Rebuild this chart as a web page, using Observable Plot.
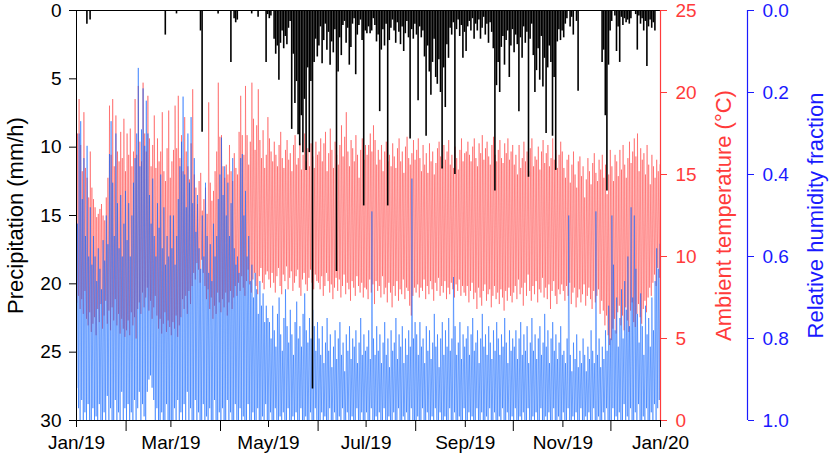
<!DOCTYPE html>
<html><head><meta charset="utf-8">
<script src="https://cdn.jsdelivr.net/npm/d3@7"></script>
<script src="https://cdn.jsdelivr.net/npm/@observablehq/plot@0.6"></script>
<style>body{margin:0;background:#fff}</style>
</head><body><div id="chart"></div>
<script>
// Daily maximum temperature (°C), Jan..Dec 2019
const tMax = [
17.5,19.6,16.8,15.2,18.8,15.4,14.8,13.6,16.4,14.2,13.5,13,12.4,12.6,12.9,13.2,12.5,12.2,13.6,14.8,19.2,16.2,19.6,15.5,18.6,16.4,15.8,17.6,16,18.4,15.2,
17.5,16.2,17.8,15.5,16.4,19.6,16.2,20.4,17,15.8,20.6,17.5,16.4,19.8,17.2,15.5,16.8,18.6,15.4,17.2,15.8,16.4,18.8,15.2,14.6,16.6,18.9,14.8,
15.8,16.5,19.2,16.6,19.8,16,17.4,15.2,18.5,16.4,15.5,14.7,16.9,20.2,15,14.2,13.2,14.6,15.1,12.8,13.5,14.2,12.6,19.4,14.5,13.4,14,15.2,16.4,20.6,17.3,
17.4,15.5,14.8,15.6,15,16.8,15.2,14.6,16.3,15.4,15,17.6,19.8,17.4,16.2,20.4,17.4,15.6,17,20.6,18.4,16.5,18,20.2,17.1,16,17.7,15.4,16.2,18.5,
17.2,16.4,15.8,17,16.2,15.5,16.8,17.6,16,15.4,16.5,17.1,15.9,16.3,15.2,16.8,17.4,15.6,16,16.9,15.3,16.2,17.5,15.8,16.6,15.5,16.9,16.1,15.4,17,16.2,
16.4,17.2,15.8,16.9,17.6,15.2,16.3,17.8,16.5,15.4,17,16.2,15.6,16.8,18,16.1,17.3,18.8,16.4,15.5,17.1,16.6,15.8,17.4,16.2,14.8,16.5,17.2,15.9,16.8,
16.2,16.8,17.5,16.4,18,17.1,15.6,16.5,15.9,16.8,15.2,16.4,17,15.8,16.2,15.5,16.9,16.1,15.4,16.6,17.2,15.8,16.4,15.1,16.7,17.3,16,15.6,16.3,17.1,15.9,
16.5,17.2,16,15.2,16.8,15.6,16.3,15.1,16.9,15.8,16.4,15,15.7,16.6,17,16.1,15.5,16.8,15.9,16.4,17.1,15.6,16.2,15.4,16.7,16,15.3,16.5,17.2,15.8,16.3,
16.4,17,16.2,15.8,16.7,17.2,16,15.5,16.9,16.3,17.4,15.9,16.6,17,16.1,15.6,16.8,17.3,16.2,15.8,16.5,17.1,16,15.7,16.9,16.3,17.2,15.9,16.4,16.8,
15.6,16.2,15,16.8,15.4,16,17,15.8,16.4,15.2,16.6,17.2,15.5,16.1,15.9,16.7,15.3,16.4,17.1,15.7,16.3,16.8,15.5,16,17.2,15.9,16.5,15.4,16.2,17,16.4,
15.4,14.8,15.9,16.2,14.5,15.6,16.4,15,14.2,15.8,16.1,14.9,15.5,13.6,14.7,16,15.2,14.4,15.7,16.3,15.1,14.6,15.9,15.3,16.2,14.8,15.6,13.8,15,16.5,
15.5,14.6,16.2,15.8,14.9,16.5,15.3,16.8,15.6,14.8,16,17,15.7,16.4,17.2,16.1,17.5,15.2,16.6,15.9,16.3,15,16.8,15.6,14.4,16.2,15.5,14.8,15.9,15.2,15.6
];
// Daily minimum temperature (°C)
const tMin = [
7.2,7.6,6.8,7.4,6.5,7.9,6.2,5.8,6.6,5.4,5.9,6.3,5.2,6.8,6,7.1,5.6,6.4,7.3,5.9,6.7,5.5,6.9,6.1,7.4,5.8,6.5,5.3,6.2,5.6,5.1,
5.5,6.1,5.2,6.6,5.8,6.3,5,6.8,7.2,6.5,7.8,6.9,7.5,8.1,6.7,7.3,6.2,6.9,7.6,6.4,5.6,6.2,5.3,5.9,6.6,5.4,6.1,5.7,
5.2,6,5.6,6.4,5.1,5.8,6.3,7.4,6.8,7.6,6.5,7.9,7.1,8.2,9,8.6,9.6,9.2,8.4,9.8,9,8.2,7.4,8,6.8,7.5,6.2,7,6.5,7.8,7.2,
6.6,7.4,6.9,7.8,6.4,7.2,7.9,6.8,7.5,8.2,7.6,8.4,7.9,8.8,8.1,7.6,8.5,9.2,8.3,7.8,8.6,9,8.2,7.7,8.8,9.3,8.4,8,8.9,9.1,
8.6,8.1,9,8.4,7.8,8.8,9.3,8.2,7.7,8.9,8.5,9.4,8,8.7,9.1,7.9,8.4,8.8,9.2,8.1,7.6,8.6,9,8.3,7.9,8.7,9.2,8.4,8,8.9,8.5,
8.4,8,8.8,7.6,8.2,9,8.5,7.8,8.3,7.4,8.1,8.7,7.9,8.6,7.5,8.2,8.9,7.7,8.4,8,7.3,8.5,8.1,7.6,8.8,8.2,7.8,8.4,7.5,8.1,
8,7.4,8.6,7.8,8.3,7.1,8.5,7.9,8.2,7.5,8.8,7.7,8.1,7.2,8.4,7.8,6.9,8.2,7.6,8.5,7.3,8,7.7,8.6,7.4,8.1,7.9,7,6.4,7.6,8.1,
7.8,8.3,7.5,8.1,7.9,8.6,7.4,8.2,7.7,8.5,8,7.3,8.4,7.9,8.7,7.6,8.2,7.8,8.5,7.4,8.1,7.7,8.4,8,7.5,8.3,7.9,8.6,7.6,8.2,7.8,
7.6,8.2,7.2,7.9,8.4,7.4,7.8,6.8,8.1,7.5,7,7.9,8.3,7.3,7.7,8,6.9,7.6,8.2,7.4,7.8,7.1,8,7.5,6.7,7.9,7.3,8.1,7.6,7.2,
7.8,8.2,7.4,8.6,7.7,8.1,7,8.4,7.6,8.9,7.9,7.3,8.2,7.7,8.5,7.2,8,7.8,8.7,7.5,8.1,7.4,8.3,6.8,7.9,8.5,7.6,7.1,8,7.7,8.3,
7.9,7.3,8.2,7.6,8.4,7.1,7.8,8.1,6.9,7.5,8,7.2,7.7,8.3,7,7.6,8.1,7.4,6.8,7.9,7.2,7.6,8,6.5,7.3,6.7,5.8,6.4,5.2,4.6,
4.9,5.6,6.2,5.3,6.6,7,5.8,6.4,5.5,6.9,6.1,5.4,6.7,7.2,6,5.7,6.5,7.1,6.3,5.9,6.8,7.3,6.6,7.5,8.1,7.6,8.4,8.9,8.2,9.3,8.7
];
// Daily minimum relative humidity (fraction)
const hMin = [
0.52,0.3,0.27,0.46,0.36,0.55,0.33,0.6,0.48,0.62,0.55,0.6,0.66,0.58,0.63,0.68,0.56,0.61,0.5,0.57,0.35,0.27,0.42,0.55,0.3,0.47,0.58,0.45,0.6,0.52,0.44,
0.56,0.47,0.6,0.5,0.42,0.36,0.3,0.14,0.38,0.29,0.19,0.33,0.22,0.3,0.45,0.52,0.41,0.55,0.6,0.47,0.53,0.4,0.58,0.48,0.62,0.55,0.6,0.5,
0.58,0.5,0.62,0.55,0.46,0.38,0.32,0.21,0.4,0.48,0.3,0.42,0.26,0.47,0.36,0.54,0.45,0.58,0.63,0.5,0.6,0.42,0.55,0.64,0.57,0.66,0.52,0.6,0.55,0.46,0.4,
0.31,0.45,0.38,0.5,0.42,0.55,0.47,0.36,0.58,0.62,0.6,0.64,0.36,0.35,0.5,0.44,0.6,0.55,0.66,0.62,0.7,0.64,0.68,0.74,0.66,0.72,0.69,0.76,0.72,0.75,
0.76,0.8,0.72,0.78,0.82,0.74,0.7,0.79,0.83,0.75,0.68,0.77,0.81,0.73,0.79,0.84,0.76,0.71,0.8,0.77,0.82,0.74,0.69,0.78,0.81,0.75,0.8,0.73,0.77,0.83,0.76,
0.8,0.84,0.77,0.86,0.81,0.75,0.83,0.79,0.87,0.82,0.78,0.85,0.8,0.76,0.84,0.81,0.88,0.79,0.83,0.77,0.85,0.8,0.82,0.78,0.86,0.81,0.75,0.84,0.79,0.83,
0.82,0.78,0.85,0.49,0.8,0.84,0.77,0.83,0.79,0.86,0.81,0.76,0.84,0.8,0.87,0.78,0.83,0.81,0.75,0.85,0.79,0.82,0.77,0.86,0.8,0.84,0.78,0.82,0.41,0.8,0.76,
0.79,0.84,0.76,0.82,0.8,0.86,0.77,0.83,0.78,0.85,0.81,0.74,0.82,0.79,0.87,0.8,0.76,0.84,0.78,0.82,0.75,0.83,0.8,0.65,0.77,0.84,0.81,0.76,0.85,0.79,0.82,
0.8,0.77,0.84,0.79,0.75,0.83,0.81,0.78,0.86,0.8,0.74,0.82,0.79,0.84,0.77,0.81,0.85,0.78,0.83,0.76,0.8,0.84,0.79,0.82,0.75,0.81,0.86,0.78,0.83,0.8,
0.82,0.78,0.85,0.8,0.76,0.84,0.79,0.83,0.77,0.86,0.81,0.75,0.83,0.79,0.85,0.8,0.77,0.84,0.81,0.74,0.82,0.78,0.86,0.8,0.76,0.83,0.79,0.85,0.81,0.77,0.84,
0.83,0.86,0.8,0.5,0.84,0.88,0.81,0.85,0.79,0.87,0.83,0.86,0.8,0.84,0.88,0.82,0.85,0.78,0.83,0.86,0.49,0.84,0.8,0.87,0.82,0.85,0.78,0.83,0.72,0.8,
0.5,0.62,0.78,0.7,0.82,0.75,0.68,0.8,0.66,0.73,0.6,0.77,0.48,0.7,0.5,0.63,0.74,0.81,0.69,0.77,0.84,0.72,0.79,0.75,0.82,0.7,0.78,0.66,0.58,0.63,0.57
];
// Daily maximum relative humidity (fraction)
const hMax = [
0.92,0.97,1,0.95,1,0.98,1,0.96,1,1,0.97,1,0.99,1,0.96,1,1,0.98,1,0.94,1,0.97,1,1,0.95,1,0.98,1,0.93,1,0.97,
1,0.96,1,0.98,1,0.95,1,0.97,0.93,1,0.96,0.99,1,0.93,0.9,0.89,0.92,0.95,1,0.97,1,1,0.98,1,1,0.96,1,1,
1,1,0.97,1,0.95,1,0.98,1,0.96,1,0.93,1,0.97,1,1,0.95,1,0.98,1,1,0.96,1,0.99,1,0.97,1,1,0.95,1,1,0.98,
1,0.97,1,1,0.95,1,0.98,1,1,0.96,1,1,0.97,1,0.99,1,1,0.96,1,1,0.98,1,1,0.97,1,1,0.99,1,0.96,1,
1,0.98,1,1,0.97,1,1,0.99,1,0.98,1,1,0.97,1,1,0.99,1,0.98,1,1,0.97,1,1,0.99,1,1,0.98,1,1,0.97,1,
1,1,0.98,1,0.99,1,1,0.97,1,1,0.98,1,1,0.99,1,0.97,1,1,0.98,1,1,0.99,1,1,0.97,1,1,0.98,1,1,
0.98,1,1,0.97,1,1,0.99,1,0.98,1,1,0.97,1,1,0.99,1,1,0.98,1,1,0.97,1,1,0.99,1,0.98,1,1,0.97,1,1,
1,0.99,1,1,0.97,1,1,0.98,1,1,0.99,1,0.97,1,1,0.98,1,1,0.99,1,1,0.97,1,1,0.98,1,1,0.99,1,1,0.97,
1,1,0.98,1,0.99,1,1,0.97,1,1,0.98,1,1,0.99,1,0.97,1,1,0.98,1,1,0.99,1,0.97,1,1,0.98,1,1,0.99,
1,0.97,1,1,0.99,1,0.98,1,1,0.97,1,1,0.99,1,0.98,1,1,0.97,1,1,0.99,1,0.98,1,1,0.97,1,1,0.99,1,1,
0.98,1,1,0.97,1,1,0.99,1,0.98,1,1,0.97,1,1,0.99,1,0.98,1,1,0.97,1,1,0.99,1,1,0.98,1,0.97,1,1,
1,0.97,1,0.99,1,0.98,1,1,0.96,1,0.99,1,0.97,1,1,0.98,1,0.96,1,1,0.99,1,0.97,1,1,0.98,1,0.96,1,0.97,0.95
];
// Daily maximum hourly precipitation (mm/h)
const precip = [
0,0,0,0,0,0,1,0,0.7,0,0,0,0,0,0,0,0,0,0,0,0,0,0,0,0,0,0,0,0,0,0,
0,0,0,0,0,0,0,0,0,0,0,0,0,0,0,0,0,0,0,0,0,0,0,0,1.8,0,0,0,
0,0,0,0.25,0,0,0,0,0,0,0,0,0,0,0,0,0,0,1.5,8.9,0,0,0,0,0,0,0,0,0,0.25,0,
0,0,0,0,0,0,3.8,0,0.6,0.9,0.7,0,0,0,0,0,0,0,0,0.25,0,0,0,0.5,0,0,0,0,3.8,0.3,
0.6,0.4,0,2.1,3.2,2.6,5.1,2.4,1.5,2.8,1.9,2.5,1.3,0.8,8.7,3.2,6.8,5.2,9.1,9.9,7.7,10.4,6.5,11.7,4.2,10.4,5.2,27.7,3.8,2.1,3.4,
2.6,1.2,3.9,2.2,1,2.9,1.6,4,2.3,3.1,1.4,19.1,4.5,2,3.3,1.1,0.8,2.4,1.3,4,2.7,1,0.6,4.7,1.8,1.1,0.7,2.2,14.3,1.5,
1.7,1.2,1.7,1.5,0.6,1.1,2.3,1.8,7.4,2.9,1.4,2.6,1,14.3,2.2,1.3,0.7,1.5,2.4,0.9,1.6,2.5,1.2,3,1.7,0.8,2,9.4,1.4,2.1,1,
1.8,6.6,1.2,2,1.5,3.4,9.2,2.6,4.5,6.2,3.8,2.1,4.9,5.4,3.6,6,11.6,4.2,7.1,2.5,3.5,1.3,1.8,0.9,12,1.4,0.7,1.9,1.1,3.5,1.6,
3,1.2,0.8,1.5,0.6,2.1,1,1.5,0.7,2.1,1.3,0.5,1.8,1,2.4,0.9,1.6,2.8,13.2,5.5,3.8,6,2.7,1.9,4,2.2,1.5,4.9,2.6,1.4,
3.1,1.8,2.5,7.4,2,3.5,1.2,2.4,1.6,12.2,2.1,1,3.3,6,4.4,2.8,5.1,1.9,5.6,3.5,9,4.2,2.6,3.8,9.2,4.9,11.7,2.3,1.4,2.2,1.5,
2,1,0.6,0,1.2,0.5,1.8,0,0.8,5.9,0,0,0,0,0,0,0,0,0,0,0,0,0,0,3.8,2.9,7.7,13.2,4,1.5,
0.8,0,0.4,3,1.2,3.8,0.5,1.1,0.6,0.9,0.7,1,0.6,0,0,0.3,2.9,0.4,1,0.6,1.5,0.8,4.1,1.2,0.7,1.3,0.9,1.5,0,0,0
];
const precipTicks = [0, 5, 10, 15, 20, 25, 30];
const tempTicks = [0, 5, 10, 15, 20, 25];
const rhTicks = [0, 0.2, 0.4, 0.6, 0.8, 1.0];
const labelMonths = [0, 2, 4, 6, 8, 10, 12];
const minorMonths = [1, 3, 5, 7, 9, 11];

const START = Date.UTC(2019, 0, 1);
const DAY = 864e5;
const at = (i, f) => new Date(START + (i + f) * DAY);
// map secondary quantities onto the precipitation (0..30, reversed) scale
const T2Y = t => 30 - t * 30 / 25;
const H2Y = h => h * 30;

const tempPts = [], rhPts = [];
tMax.forEach((_, i) => {
  tempPts.push({date: at(i, 0.25), v: T2Y(tMin[i])}, {date: at(i, 0.62), v: T2Y(tMax[i])});
  rhPts.push({date: at(i, 0.25), v: H2Y(hMax[i])}, {date: at(i, 0.62), v: H2Y(hMin[i])});
});
const rainPts = precip.map((p, i) => ({date: at(i, 0.5), p})).filter(d => d.p > 0);

const RED = "#ff3b3b", BLUE = "#1a1aff";
const FS = 19;
const xEnd = new Date(Date.UTC(2020, 0, 1));

const chart = Plot.plot({
  width: 829, height: 460,
  marginLeft: 76, marginRight: 169, marginTop: 10, marginBottom: 40,
  style: {fontFamily: "'Liberation Sans', Arial, sans-serif", fontSize: "19px", background: "white", color: "black"},
  x: {type: "utc", domain: [new Date(START), xEnd]},
  y: {domain: [0, 30], reverse: true},
  marks: [
    Plot.line(tempPts, {x: "date", y: "v", stroke: "#ff2020", strokeOpacity: 0.5, strokeWidth: 0.8}),
    Plot.line(rhPts, {x: "date", y: "v", stroke: "#0a62ff", strokeOpacity: 0.62, strokeWidth: 0.8}),
    Plot.ruleX(rainPts, {x: "date", y1: 0, y2: "p", stroke: "black", strokeWidth: 1.6}),
    Plot.ruleY([0], {stroke: "black"}),
    Plot.ruleY([30], {stroke: "black"}),
    Plot.ruleX([new Date(START)], {stroke: "black"}),
    Plot.ruleX([xEnd], {stroke: RED, strokeWidth: 1.2}),
    Plot.ruleX([xEnd], {stroke: BLUE, dx: 87, strokeWidth: 1.2}),
    Plot.axisY(precipTicks, {anchor: "left", tickSize: 7, tickPadding: 8, fontSize: FS, label: null}),
    Plot.axisY(tempTicks.map(T2Y), {anchor: "right", tickSize: 6, tickPadding: 9, fontSize: FS, label: null,
      color: RED, tickFormat: d => String(Math.round((30 - d) * 25 / 30))}),
    Plot.axisY(rhTicks.map(H2Y), {anchor: "right", dx: 87, tickSize: 6, tickPadding: 9, fontSize: FS, label: null,
      color: BLUE, tickFormat: d => (d / 30).toFixed(1)}),
    Plot.axisX(labelMonths.map(m => new Date(Date.UTC(2019, m, 1))), {tickSize: 7, tickPadding: 8, fontSize: FS,
      label: null, tickFormat: d3.utcFormat("%b/%y")}),
    Plot.axisX(minorMonths.map(m => new Date(Date.UTC(2019, m, 1))), {tickSize: 11, fontSize: FS,
      label: null, tickFormat: () => ""}),
    Plot.text(["Precipitation (mm/h)"], {frameAnchor: "left", dx: -61, rotate: -90, fontSize: 22,
      fill: "black", textAnchor: "middle", lineAnchor: "middle"}),
    Plot.text(["Ambient temperature (°C)"], {frameAnchor: "right", dx: 63, rotate: -90, fontSize: 22,
      fill: RED, textAnchor: "middle", lineAnchor: "middle"}),
    Plot.text(["Relative humidity fraction"], {frameAnchor: "right", dx: 155, rotate: -90, fontSize: 22,
      fill: BLUE, textAnchor: "middle", lineAnchor: "middle"})
  ]
});
document.getElementById("chart").appendChild(chart);
</script></body></html>
